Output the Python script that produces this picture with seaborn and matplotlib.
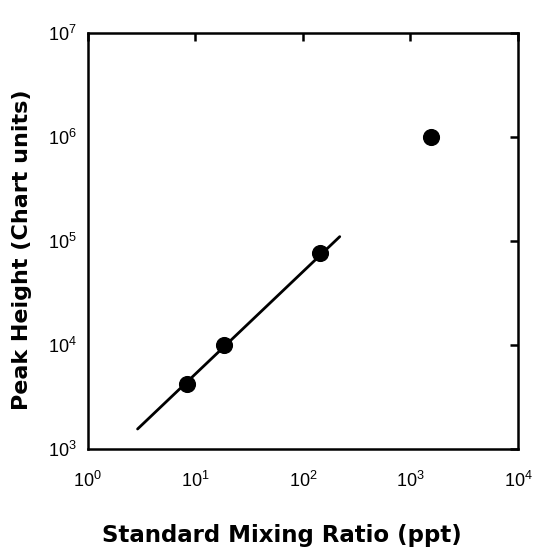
import numpy as np
import pandas as pd
import matplotlib
matplotlib.use("Agg")
import matplotlib.pyplot as plt
import seaborn as sns

# data
mixing_ratio = [8.3, 18.5, 145, 1550]
peak_height = [4200, 10000, 76000, 1000000]

fit_x = [2.9, 220]
fit_y = [1550, 110000]

sns.set_style("white", {'text.color': 'black', 'axes.labelcolor': 'black',
                        'xtick.color': 'black', 'ytick.color': 'black'})
plt.rcParams['font.family'] = ['Liberation Sans', 'DejaVu Sans']
plt.rcParams['mathtext.fontset'] = 'custom'
plt.rcParams['mathtext.rm'] = 'Liberation Sans'
plt.rcParams['mathtext.default'] = 'regular'

pts = pd.DataFrame({'x': mixing_ratio, 'y': peak_height})
fit = pd.DataFrame({'x': fit_x, 'y': fit_y})

fig = plt.figure(figsize=(5.39, 5.52), dpi=100)
ax = fig.add_axes([0.163, 0.187, 0.798, 0.753])

sns.lineplot(data=fit, x='x', y='y', color='black', linewidth=2.0, ax=ax)
sns.scatterplot(data=pts, x='x', y='y', color='black', s=130, edgecolor='black', ax=ax, zorder=3)

ax.set_xscale('log')
ax.set_yscale('log')
ax.set_xlim(1, 1e4)
ax.set_ylim(1e3, 1e7)

ax.set_xticks([1, 10, 100, 1000, 10000])
ax.set_yticks([1e3, 1e4, 1e5, 1e6, 1e7])
ax.minorticks_off()
ax.tick_params(which='major', direction='in', length=6, width=1.8,
               top=True, right=True, labelsize=13, pad=16, color='black',
               labelcolor='black')
ax.tick_params(axis='y', pad=8)

for s in ax.spines.values():
    s.set_linewidth(1.8)
    s.set_color('black')

ax.set_xlabel('Standard Mixing Ratio (ppt)', fontsize=16.5, fontweight='bold',
              family='DejaVu Sans', color='black')
ax.set_ylabel('Peak Height (Chart units)', fontsize=16, fontweight='bold',
              family='DejaVu Sans', color='black')
ax.xaxis.set_label_coords(0.45, -0.18)
ax.yaxis.set_label_coords(-0.13, 0.478)

fig.savefig('out.png', dpi=100)
